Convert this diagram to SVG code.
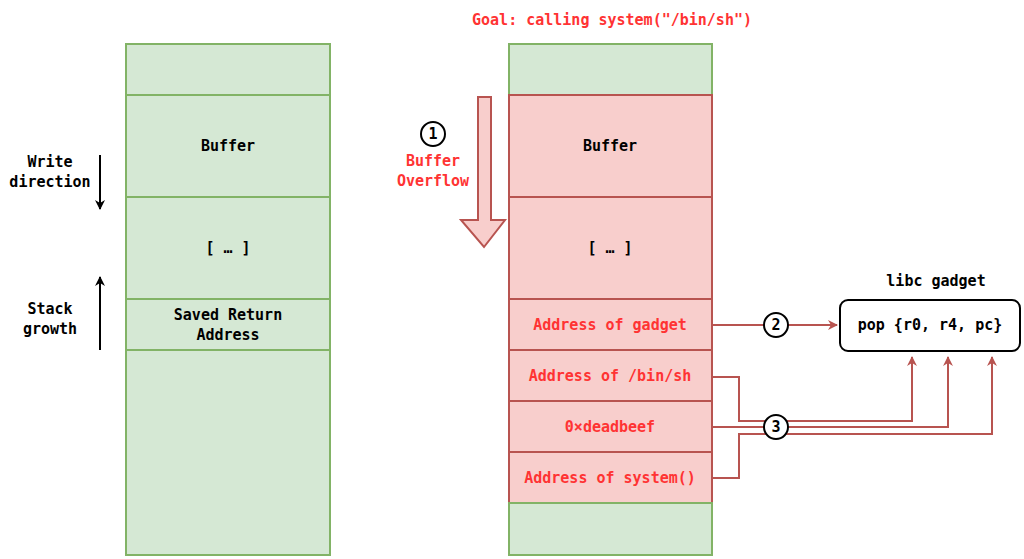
<svg xmlns="http://www.w3.org/2000/svg" width="1024" height="559" viewBox="0 0 1024 559">
<defs>
<style>
.g{fill:#d5e8d4;stroke:#82b366;stroke-width:2}
.r{fill:#f8cecc;stroke:#b85450;stroke-width:2}
text{font-family:"DejaVu Sans Mono","Liberation Mono",monospace;font-weight:bold;font-size:15px;text-anchor:middle}
.k{fill:#000}.red{fill:#ff3333}
.c{fill:none;stroke:#b85450;stroke-width:2}
.circ{fill:#fff;stroke:#000;stroke-width:2}
</style>
<marker id="ar" viewBox="0 0 10 10" refX="9" refY="5" markerWidth="5" markerHeight="5" orient="auto"><path d="M0,0L10,5L0,10L3,5Z" fill="#b85450"/></marker>
<marker id="ab" viewBox="0 0 10 10" refX="9" refY="5" markerWidth="5" markerHeight="5" orient="auto"><path d="M0,0L10,5L0,10L3,5Z" fill="#000"/></marker>
</defs>
<g id="left-stack">
<rect class="g" x="126" y="44" width="204" height="51"/>
<rect class="g" x="126" y="95" width="204" height="102"/>
<rect class="g" x="126" y="197" width="204" height="102"/>
<rect class="g" x="126" y="299" width="204" height="51"/>
<rect class="g" x="126" y="350" width="204" height="205"/>
<text class="k" x="228" y="151">Buffer</text>
<text class="k" x="228" y="253">[ … ]</text>
<text class="k" x="228" y="320">Saved Return</text>
<text class="k" x="228" y="340">Address</text>
</g>
<g id="right-stack">
<rect class="g" x="509" y="44" width="203" height="51"/>
<rect class="r" x="509" y="95" width="203" height="102"/>
<rect class="r" x="509" y="197" width="203" height="102"/>
<rect class="r" x="509" y="299" width="203" height="51"/>
<rect class="r" x="509" y="350" width="203" height="51"/>
<rect class="r" x="509" y="401" width="203" height="51"/>
<rect class="r" x="509" y="452" width="203" height="51"/>
<rect class="g" x="509" y="503" width="203" height="52"/>
<text class="k" x="610" y="151">Buffer</text>
<text class="k" x="610" y="253">[ … ]</text>
<text class="red" x="610" y="330">Address of gadget</text>
<text class="red" x="610" y="381">Address of /bin/sh</text>
<text class="red" x="610" y="432">0×deadbeef</text>
<text class="red" x="610" y="483">Address of system()</text>
</g>
<text class="red" x="612" y="25">Goal: calling system("/bin/sh")</text>
<g id="labels-left">
<text class="k" x="50" y="167">Write</text>
<text class="k" x="50" y="187">direction</text>
<text class="k" x="50" y="314">Stack</text>
<text class="k" x="50" y="334">growth</text>
</g>
<g id="gadget">
<text class="k" x="936" y="286">libc gadget</text>
<rect x="840" y="300" width="180" height="51" rx="8" fill="#fff" stroke="#000" stroke-width="2"/>
<text class="k" x="930" y="330">pop {r0, r4, pc}</text>
</g>
<g id="connectors">
<line x1="100" y1="155" x2="100" y2="209" stroke="#000" stroke-width="2" marker-end="url(#ab)"/>
<line x1="100" y1="350" x2="100" y2="277" stroke="#000" stroke-width="2" marker-end="url(#ab)"/>
<path d="M478,97H491V220H505L484,247L461,220H478Z" fill="#f8cecc" stroke="#b85450" stroke-width="2"/>
<line class="c" x1="712" y1="325" x2="837" y2="325" marker-end="url(#ar)"/>
<path class="c" d="M712,377H739V421H912V357" marker-end="url(#ar)"/>
<path class="c" d="M712,427H948V357" marker-end="url(#ar)"/>
<path class="c" d="M712,478H739V434H992V357" marker-end="url(#ar)"/>
</g>
<g id="markers">
<circle class="circ" cx="433" cy="134" r="12"/><text class="k" x="433" y="139">1</text>
<text class="red" x="433" y="166">Buffer</text>
<text class="red" x="433" y="186">Overflow</text>
<circle class="circ" cx="776" cy="325" r="12"/><text class="k" x="776" y="330">2</text>
<circle class="circ" cx="776" cy="427" r="12"/><text class="k" x="776" y="432">3</text>
</g>
</svg>
